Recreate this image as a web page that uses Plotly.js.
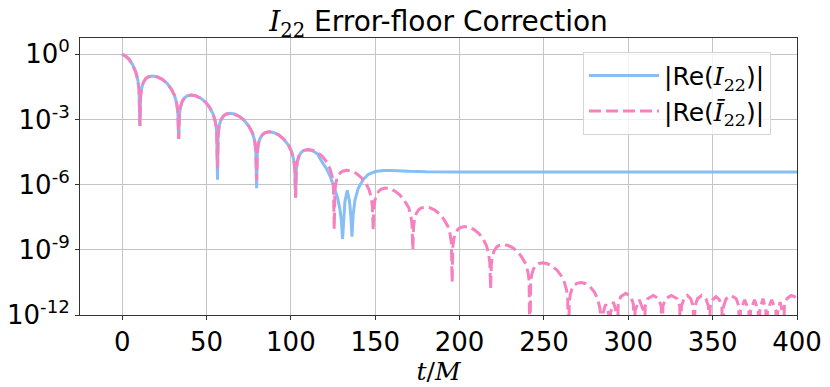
<!DOCTYPE html>
<html>
<head>
<meta charset="utf-8">
<script src="https://cdn.plot.ly/plotly-3.0.1.min.js"></script>
<style>
  html, body { margin: 0; padding: 0; background: #fff; }
  #chart { width: 830px; height: 387px; }
</style>
</head>
<body>
<div id="chart"></div>
<script>
// |Re(I22)| and |Re(Ibar22)| (t/M, value)
// pink dashed: the corrected waveform, rings down to the 1e-11 noise floor
const pinkT = [
  0, 2, 4, 6, 8, 9.3, 10, 10.5,
  10.9, 11.5, 12.5, 14, 15.5, 17.9, 20.5, 23.5, 26.5, 29, 31, 32.3, 33, 33.5,
  33.9, 34.5, 35.5, 37, 38.5, 40.9, 43.5, 46.5, 49.5, 52, 54, 55.3, 56.0, 56.5,
  56.9, 57.5, 58.5, 60, 61.5, 63.9, 66.5, 69.5, 72.5, 75, 77.2, 78.5, 79.2, 79.7,
  80.1, 80.7, 81.7, 83.2, 84.7, 87.1, 89.7, 92.7, 95.7, 98.3, 100.3, 101.6, 102.3, 102.8,
  103.2, 103.8, 104.8, 106.3, 107.8, 110.2, 112.8, 115.8, 118.8, 121.2, 123.2, 124.5, 125.2, 125.7,
  126.1, 126.7, 127.7, 129.2, 130.7, 133.1, 135.7, 138.7, 141.7, 144.3, 146.3, 147.6, 148.3, 148.8,
  149.2, 149.8, 150.8, 152.3, 153.8, 156.2, 158.8, 161.8, 164.8, 167.3, 169.8, 171.1, 171.8, 172.3,
  172.7, 173.3, 174.3, 175.8, 177.3, 179.7, 182.3, 185.3, 188.3, 190.8, 193.1, 194.4, 195.1, 195.6,
  196.0, 196.6, 197.6, 199.1, 200.6, 203.0, 205.6, 208.6, 211.6, 214.0, 216.0, 217.2, 217.9, 218.4,
  218.8, 219.4, 220.4, 221.9, 223.4, 225.8, 228.4, 231.4, 234.4, 236.9, 239.2, 240.5, 241.2, 241.7,
  242.1, 242.7, 243.7, 245.2, 246.7, 249.1, 251.7, 254.7, 257.7, 260.1, 262.1, 263.4, 264.1, 264.6,
  265.0, 265.6, 266.6, 268.1, 269.6, 272.0, 274.6, 277.4, 280, 282, 283.2, 283.8, 284.2,
  284.7, 286.6, 288.5, 289,
  289.5, 291.2, 293.0, 293.5,
  294.0, 295.5, 298.5, 301.5, 303.0, 303.5,
  304.0, 306.5, 309.0, 309.5,
  310.0, 311.5, 314.8, 318.0, 319.5, 320,
  320.5, 322, 325.5, 329, 330.5, 331,
  331.5, 333, 335, 337, 338.5, 339,
  339.5, 341, 343.5, 346, 347.5, 348,
  348.5, 350, 352, 354, 355.5, 356,
  356.5, 358, 361, 364, 365.5, 366,
  366.5, 369, 371.5, 372,
  372.5, 374.8, 377, 377.5,
  378, 379.8, 381.5, 382,
  382.5, 385, 387.5, 388,
  388.5, 390, 391.5, 392,
  392.5, 394, 396.5, 398.5, 400
];
const pinkY = [
  1.0, 0.83, 0.60, 0.355, 0.158, 0.063, 0.025, 5.0e-4,
  1.17e-2, 2.75e-2, 5.0e-2, 7.6e-2, 9.1e-2, 1.0e-1, 9.3e-2, 7.2e-2, 4.7e-2, 2.6e-2, 1.29e-2, 5.6e-3, 2.2e-3, 1.26e-4,
  1.55e-3, 3.63e-3, 6.61e-3, 1.0e-2, 1.20e-2, 1.32e-2, 1.23e-2, 9.55e-3, 6.17e-3, 3.47e-3, 1.70e-3, 7.41e-4, 2.95e-4, 5.6e-6,
  2.24e-4, 5.25e-4, 9.55e-4, 1.45e-3, 1.74e-3, 1.91e-3, 1.78e-3, 1.38e-3, 8.91e-4, 5.01e-4, 2.45e-4, 1.07e-4, 4.27e-5, 1.58e-6,
  3.16e-5, 7.41e-5, 1.35e-4, 2.04e-4, 2.45e-4, 2.69e-4, 2.51e-4, 1.95e-4, 1.26e-4, 7.08e-5, 3.47e-5, 1.51e-5, 6.03e-6, 2.51e-7,
  4.90e-6, 1.15e-5, 2.09e-5, 3.16e-5, 3.80e-5, 4.17e-5, 3.89e-5, 3.02e-5, 1.95e-5, 1.10e-5, 5.37e-6, 2.34e-6, 9.33e-7, 8.9e-9,
  5.37e-7, 1.26e-6, 2.29e-6, 3.47e-6, 4.17e-6, 4.57e-6, 4.27e-6, 3.31e-6, 2.14e-6, 1.20e-6, 5.89e-7, 2.57e-7, 1.02e-7, 7.9e-9,
  8.13e-8, 1.91e-7, 3.47e-7, 5.25e-7, 6.31e-7, 6.92e-7, 6.46e-7, 5.01e-7, 3.24e-7, 1.82e-7, 8.91e-8, 3.89e-8, 1.55e-8, 1.0e-9,
  1.10e-8, 2.57e-8, 4.68e-8, 7.08e-8, 8.51e-8, 9.33e-8, 8.71e-8, 6.76e-8, 4.37e-8, 2.45e-8, 1.20e-8, 5.25e-9, 2.09e-9, 3.16e-11,
  1.38e-9, 3.24e-9, 5.89e-9, 8.91e-9, 1.07e-8, 1.17e-8, 1.10e-8, 8.51e-9, 5.50e-9, 3.09e-9, 1.51e-9, 6.61e-10, 2.63e-10, 1.58e-11,
  2.04e-10, 4.79e-10, 8.71e-10, 1.32e-9, 1.58e-9, 1.74e-9, 1.62e-9, 1.26e-9, 8.13e-10, 4.57e-10, 2.24e-10, 9.77e-11, 3.89e-11, 1e-14,
  2.95e-11, 6.92e-11, 1.26e-10, 1.91e-10, 2.29e-10, 2.51e-10, 2.34e-10, 1.82e-10, 1.17e-10, 6.61e-11, 3.24e-11, 1.41e-11, 5.62e-12, 1e-14,
  3.72e-12, 8.71e-12, 1.58e-11, 2.40e-11, 2.88e-11, 3.16e-11, 2.82e-11, 2.0e-11, 1.12e-11, 5.01e-12, 2.0e-12, 7.9e-13, 1e-14,
  1.0e-12, 3.16e-12, 1.0e-12, 1e-14,
  1.26e-12, 3.98e-12, 1.26e-12, 1e-14,
  3.16e-12, 7.0e-12, 1.0e-11, 7.0e-12, 3.16e-12, 1e-14,
  1.58e-12, 5.01e-12, 1.58e-12, 1e-14,
  2.51e-12, 5.6e-12, 7.94e-12, 5.6e-12, 2.51e-12, 1e-14,
  2.51e-12, 5.6e-12, 7.94e-12, 5.6e-12, 2.51e-12, 1e-14,
  2.51e-12, 5.6e-12, 7.94e-12, 5.6e-12, 2.51e-12, 1e-14,
  2.51e-12, 5.6e-12, 7.94e-12, 5.6e-12, 2.51e-12, 1e-14,
  2.24e-12, 5.0e-12, 7.08e-12, 5.0e-12, 2.24e-12, 1e-14,
  2.51e-12, 5.6e-12, 7.94e-12, 5.6e-12, 2.51e-12, 1e-14,
  1.58e-12, 5.01e-12, 1.58e-12, 1e-14,
  1.58e-12, 5.01e-12, 1.58e-12, 1e-14,
  1.78e-12, 5.62e-12, 1.78e-12, 1e-14,
  1.58e-12, 5.01e-12, 1.58e-12, 1e-14,
  1.26e-12, 3.98e-12, 1.26e-12, 1e-14,
  2.51e-12, 5.6e-12, 7.94e-12, 7.0e-12, 5.0e-12
];

// blue solid: follows the same ringdown, then sits on the ~4e-6 error floor
const blueT = [
  0, 2, 4, 6, 8, 9.3, 10, 10.5,
  10.9, 11.5, 12.5, 14, 15.5, 17.9, 20.5, 23.5, 26.5, 29, 31, 32.3, 33, 33.5,
  33.9, 34.5, 35.5, 37, 38.5, 40.9, 43.5, 46.5, 49.5, 52, 54, 55.3, 56.0, 56.5,
  56.9, 57.5, 58.5, 60, 61.5, 63.9, 66.5, 69.5, 72.5, 75, 77.2, 78.5, 79.2, 79.7,
  80.1, 80.7, 81.7, 83.2, 84.7, 87.1, 89.7, 92.7, 95.7, 98.3, 100.3, 101.6, 102.3, 102.8,
  103.2, 103.8, 104.8, 106.3, 107.8, 110.2, 112.8, 115.8, 118.8,
  121, 123.5, 125.7, 127.5, 129, 130, 130.6, 131.2, 132, 133.4, 134.8, 135.6, 136.2, 136.9,
  138, 140, 143, 146, 150, 155, 160, 170, 180, 200, 250, 300, 350, 400
];
const blueY = [
  1.0, 0.83, 0.60, 0.355, 0.158, 0.063, 0.025, 5.0e-4,
  1.17e-2, 2.75e-2, 5.0e-2, 7.6e-2, 9.1e-2, 1.0e-1, 9.3e-2, 7.2e-2, 4.7e-2, 2.6e-2, 1.29e-2, 5.6e-3, 2.2e-3, 1.26e-4,
  1.55e-3, 3.63e-3, 6.61e-3, 1.0e-2, 1.20e-2, 1.32e-2, 1.23e-2, 9.55e-3, 6.17e-3, 3.47e-3, 1.70e-3, 7.41e-4, 2.95e-4, 1.7e-6,
  2.24e-4, 5.25e-4, 9.55e-4, 1.45e-3, 1.74e-3, 1.91e-3, 1.78e-3, 1.38e-3, 8.91e-4, 5.01e-4, 2.45e-4, 1.07e-4, 4.27e-5, 6.8e-7,
  3.16e-5, 7.41e-5, 1.35e-4, 2.04e-4, 2.45e-4, 2.69e-4, 2.51e-4, 1.95e-4, 1.26e-4, 7.08e-5, 3.47e-5, 1.51e-5, 6.03e-6, 2.51e-7,
  4.90e-6, 1.15e-5, 2.09e-5, 3.16e-5, 3.80e-5, 4.0e-5, 3.6e-5, 2.6e-5, 1.0e-5,
  5.6e-6, 2.24e-6, 7.9e-7, 2.8e-7, 7.9e-8, 2.0e-8, 3.16e-9, 3.16e-8, 1.58e-7, 5.5e-7, 1.58e-7, 3.16e-8, 4.0e-9, 4.0e-8,
  2.0e-7, 7.1e-7, 1.78e-6, 3.0e-6, 4.0e-6, 4.5e-6, 4.5e-6, 4.1e-6, 3.9e-6, 3.85e-6, 3.85e-6, 3.85e-6, 3.85e-6, 3.85e-6
];

const xTicks = [0, 50, 100, 150, 200, 250, 300, 350, 400];
const yTicks = [1, 1e-3, 1e-6, 1e-9, 1e-12];
const yTickText = ['10<sup>0</sup>', '10<sup>-3</sup>', '10<sup>-6</sup>', '10<sup>-9</sup>', '10<sup>-12</sup>'];

const serif = 'DejaVu Serif, serif';
const sans = 'DejaVu Sans, sans-serif';
const mathI = (bar) => '<span style="font-family:DejaVu Serif"><i>' + (bar ? '\u012A' : 'I') + '</i><sub>22</sub></span>';

const traces = [
  {
    x: blueT, y: blueY,
    type: 'scatter', mode: 'lines',
    name: '|Re(' + mathI(false) + ')|',
    line: { color: '#85bff5', width: 3 }
  },
  {
    x: pinkT, y: pinkY,
    type: 'scatter', mode: 'lines',
    name: '|Re(' + mathI(true) + ')|',
    line: { color: '#f781bf', width: 3, dash: '12px,5px' }
  }
];

const layout = {
  width: 830,
  height: 387,
  margin: { l: 80, r: 33, t: 38, b: 72 },
  paper_bgcolor: '#fff',
  plot_bgcolor: '#fff',
  font: { family: sans, size: 25, color: '#000' },
  title: {
    text: mathI(false) + ' Error-floor Correction',
    font: { family: sans, size: 28, color: '#000' },
    x: 0.5, xref: 'paper',
    y: 0.945, yref: 'container', yanchor: 'middle'
  },
  xaxis: {
    range: [-25, 400],
    tickvals: xTicks,
    ticks: 'outside', ticklen: 4, tickcolor: '#333',
    showgrid: true, gridcolor: '#c4c4c4', gridwidth: 1,
    zeroline: false,
    showline: true, mirror: true, linecolor: '#333', linewidth: 1,
    tickfont: { family: sans, size: 26 },
    title: { text: '<i>t</i>/<i>M</i>', font: { family: serif, size: 25 }, standoff: 3 }
  },
  yaxis: {
    type: 'log',
    range: [-12, 0.75],
    tickvals: yTicks,
    ticktext: yTickText,
    ticks: 'outside', ticklen: 4, tickcolor: '#333',
    showgrid: true, gridcolor: '#c4c4c4', gridwidth: 1,
    zeroline: false,
    showline: true, mirror: true, linecolor: '#333', linewidth: 1,
    tickfont: { family: sans, size: 26 }
  },
  showlegend: true,
  legend: {
    x: 0.7015, y: 0.95, xanchor: 'left', yanchor: 'top',
    bgcolor: 'rgba(255,255,255,0.8)',
    bordercolor: '#d4d4d4', borderwidth: 1,
    itemwidth: 70,
    tracegroupgap: 0,
    font: { family: sans, size: 25 }
  }
};

Plotly.newPlot('chart', traces, layout, { staticPlot: true, displayModeBar: false });
</script>
</body>
</html>
